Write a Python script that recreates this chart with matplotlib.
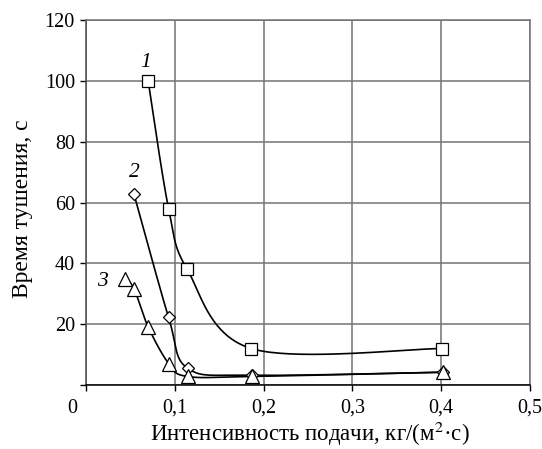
import numpy as np
import matplotlib
matplotlib.use("Agg")
import matplotlib.pyplot as plt
import matplotlib.transforms as mtransforms

# feed intensity, kg/(m2*s) and extinguishing time, s
x1 = [0.070, 0.093, 0.114, 0.186, 0.401]
t1 = [100, 58, 38, 12, 12]
x2 = [0.054, 0.093, 0.1145, 0.187, 0.402]
t2 = [62.8, 22.2, 5.5, 3.2, 4.2]
x3 = [0.044, 0.054, 0.070, 0.0935, 0.1145, 0.1866, 0.4016]
t3 = [34.8, 31.7, 19.1, 6.9, 2.8, 2.8, 4.2]

curve_labels = ["1", "2", "3"]
label_pos = [(0.0676, 105.9), (0.055, 69.7), (0.018, 33.9)]

xticks = [0, 0.1, 0.2, 0.3, 0.4, 0.5]
xtick_labels = ["0", "0,1", "0,2", "0,3", "0,4", "0,5"]
yticks = [0, 20, 40, 60, 80, 100, 120]
ytick_labels = ["", "20", "40", "60", "80", "100", "120"]

plt.rcParams["font.family"] = ["Liberation Serif", "DejaVu Serif"]
plt.rcParams["mathtext.fontset"] = "stix"

fig = plt.figure(figsize=(5.42, 4.49), dpi=100)
ax = fig.add_axes([86 / 542, 1 - 385 / 449, 444 / 542, 365 / 449])
ax.set_xlim(0, 0.5)
ax.set_ylim(0, 120)


def smooth(xs, ys, n=40):
    # Catmull-Rom through the points, done in axes units so the bends look even
    px = np.asarray(xs) / 0.5 * 444
    py = np.asarray(ys) / 120 * 365
    P = np.column_stack([px, py])
    P = np.vstack([P[0], P, P[-1]])
    out = []
    for i in range(1, len(P) - 2):
        p0, p1, p2, p3 = P[i - 1], P[i], P[i + 1], P[i + 2]
        c1 = p1 + (p2 - p0) / 6
        c2 = p2 - (p3 - p1) / 6
        s = np.linspace(0, 1, n)[:, None]
        seg = ((1 - s) ** 3) * p1 + 3 * ((1 - s) ** 2) * s * c1 + 3 * (1 - s) * s ** 2 * c2 + s ** 3 * p2
        out.append(seg)
    out = np.vstack(out)
    return out[:, 0] / 444 * 0.5, out[:, 1] / 365 * 120


series = [(x1, t1, "s", 9), (x2, t2, "D", 6), (x3, t3, "^", 9.5)]
for xs, ys, mk, ms in series:
    sx, sy = smooth(xs, ys)
    ax.plot(sx, sy, color="black", lw=1.2, zorder=3, clip_on=False)
for xs, ys, mk, ms in series:
    ax.plot(xs, ys, ls="none", marker=mk, ms=ms, mfc="white", mec="black",
            mew=0.9, zorder=4, clip_on=False)

for lab, (lx, ly) in zip(curve_labels, label_pos):
    ax.text(lx, ly, lab, fontsize=15.5, style="italic", ha="center", va="center")

ax.set_xticks(xticks)
ax.set_xticklabels(xtick_labels)
ax.set_yticks(yticks)
ax.set_yticklabels(ytick_labels)
ax.tick_params(axis="both", direction="out", length=4, width=1, labelsize=14.5)
ax.tick_params(axis="x", pad=6)
ax.tick_params(axis="y", pad=4)

# the zero on the x axis sits a little to the left
zero = ax.get_xticklabels()[0]
zero.set_transform(zero.get_transform() + mtransforms.ScaledTranslation(-14 / 100, 0, fig.dpi_scale_trans))

ax.grid(True, color="0.45", lw=1.1)
ax.set_axisbelow(True)
for side in ["top", "right"]:
    ax.spines[side].set_color("0.45")
    ax.spines[side].set_linewidth(1.1)
ax.spines["left"].set_color("0.3")
ax.spines["left"].set_linewidth(1.1)
ax.spines["bottom"].set_color("black")
ax.spines["bottom"].set_linewidth(1.1)

ax.set_xlabel("Интенсивность подачи, кг/(м$^2$·с)", fontsize=16.5, va="center")
ax.xaxis.set_label_coords(0.505, -0.134)
ax.set_ylabel("Время тушения, с", fontsize=17, va="center")
ax.yaxis.set_label_coords(-0.142, 0.484)

fig.savefig("out.png", dpi=100)
